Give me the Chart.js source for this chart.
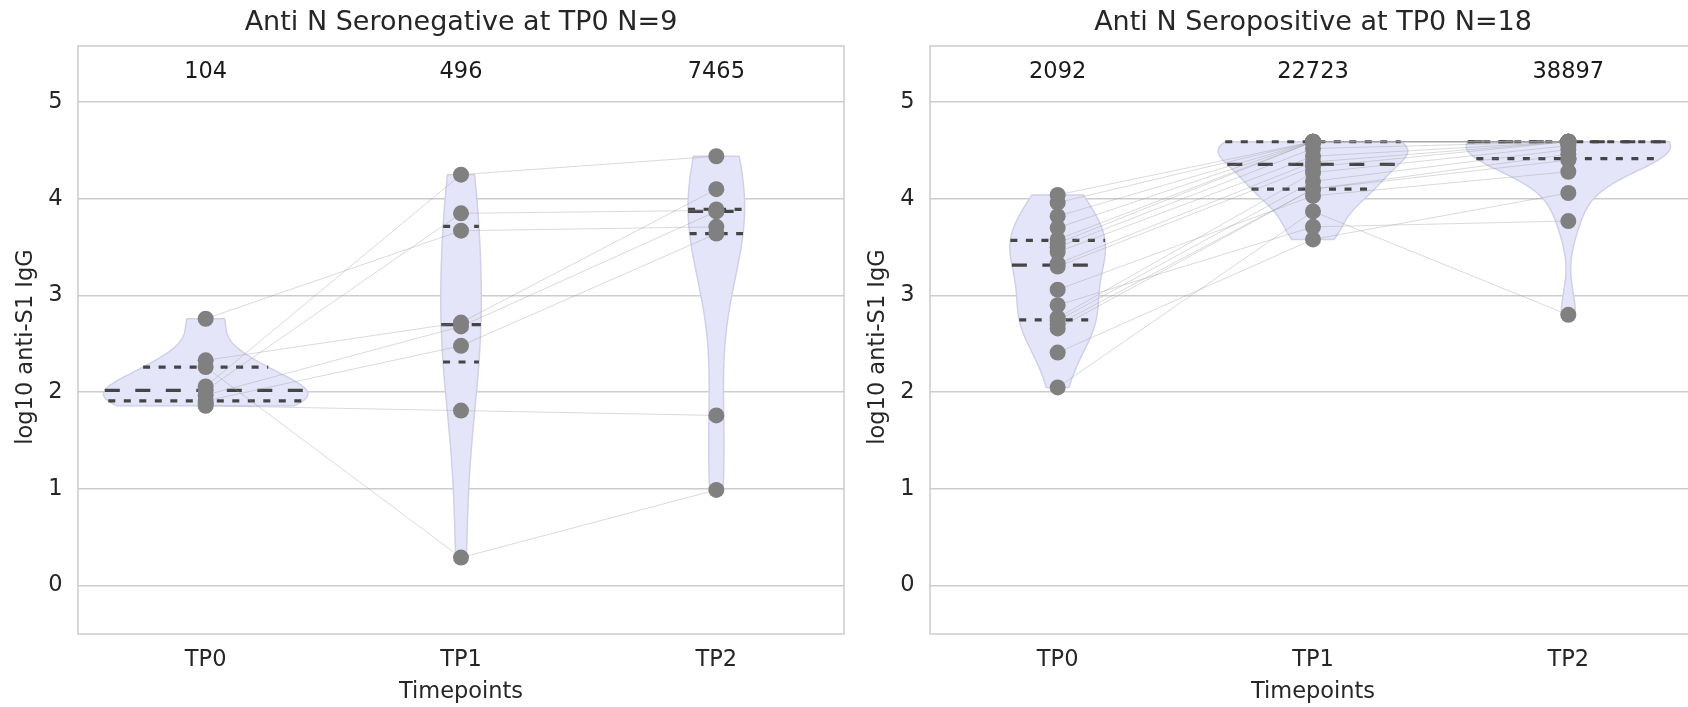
<!DOCTYPE html>
<html>
<head>
<meta charset="utf-8">
<title>anti-S1 IgG by timepoint</title>
<script src="https://cdn.jsdelivr.net/npm/chart.js@4.4.0/dist/chart.umd.min.js"></script>
<style>
  html, body { margin: 0; padding: 0; background: #fff; overflow: hidden; }
  #wrap { position: relative; width: 1688px; height: 707px; overflow: hidden; }
  .panel { position: absolute; top: 0; width: 852px; height: 707px; }
</style>
</head>
<body>
<div id="wrap">
  <div class="panel" style="left:0"><canvas id="neg" width="852" height="707"></canvas></div>
  <div class="panel" style="left:852px"><canvas id="pos" width="852" height="707"></canvas></div>
</div>
<script>
const timepoints = ['TP0', 'TP1', 'TP2'];
const yTicks = [0, 1, 2, 3, 4, 5];
const yTitle = 'log10 anti-S1 IgG';

// seronegative at TP0, one entry per subject (log10 values), null = no sample
const negTP0 = [2.76, 2.06, 2.02, 2.26, 1.86, 2.33, 1.97, 1.91, 1.88];
const negTP1 = [3.67, 4.25, 3.85, 0.29, 1.81, 2.72, 2.68, 2.48, null];
const negTP2 = [3.71, 4.44, 3.88, 0.99, 1.76, 4.10, 3.87, 3.64, 3.89];
const negMedians = ['104', '496', '7465'];

// seropositive at TP0
const posTP0 = [4.04, 3.96, 3.82, 3.70, 3.58, 3.54, 3.50, 3.45, 3.33, 3.30, 2.77, 2.74, 2.70, 2.66, 3.06, 2.90, 2.41, 2.05];
const posTP1 = [4.59, 4.59, 4.59, 4.59, 4.59, 4.59, 4.52, 4.44, 4.38, 4.33, 4.27, 4.18, 4.10, 4.10, 4.03, 3.71, 3.58, 3.87];
const posTP2 = [4.59, 4.59, 4.59, 4.59, 4.59, 4.59, 4.59, 4.59, 4.59, 4.59, 4.55, 4.51, 4.46, 4.40, 4.28, 3.77, 4.06, 2.80];
const posMedians = ['2092', '22723', '38897'];

const FONT = 'DejaVu Sans';
const TEXT = '#262626';
const GRID = '#cccccc';

// gaussian kde, scott bandwidth, cut at data range
function violinShape(values) {
  const v = values.filter(d => d !== null).sort((a, b) => a - b);
  const n = v.length;
  const mean = v.reduce((a, b) => a + b, 0) / n;
  const sd = Math.sqrt(v.reduce((a, b) => a + (b - mean) ** 2, 0) / (n - 1));
  const bw = sd * Math.pow(n, -0.2);
  const density = t => v.reduce((s, d) => s + Math.exp(-0.5 * ((t - d) / bw) ** 2), 0) / (n * bw * Math.sqrt(2 * Math.PI));
  const lo = v[0], hi = v[n - 1];
  const grid = [];
  for (let k = 0; k <= 120; k++) {
    const t = lo + (hi - lo) * k / 120;
    grid.push([t, density(t)]);
  }
  const pct = p => {
    const idx = p * (n - 1), i = Math.floor(idx), f = idx - i;
    return i + 1 < n ? v[i] + f * (v[i + 1] - v[i]) : v[i];
  };
  return { grid, density, maxD: Math.max(...grid.map(g => g[1])), quartiles: [pct(0.25), pct(0.5), pct(0.75)] };
}

const violinPlugin = {
  id: 'violins',
  beforeDatasetsDraw(chart, args, opts) {
    const { ctx, chartArea: a, scales: { x, y } } = chart;
    // frame (all four spines)
    ctx.save();
    ctx.strokeStyle = GRID;
    ctx.lineWidth = 1.5;
    ctx.strokeRect(a.left, a.top, a.right - a.left, a.bottom - a.top);

    const shapes = opts.groups.map(violinShape);
    const maxD = Math.max(...shapes.map(s => s.maxD));
    const unit = x.getPixelForValue(1) - x.getPixelForValue(0);
    shapes.forEach((s, i) => {
      const cx = x.getPixelForValue(i);
      const half = d => d / maxD * 0.4 * unit;
      ctx.beginPath();
      s.grid.forEach(([t, d], k) => {
        const px = cx - half(d), py = y.getPixelForValue(t);
        if (k) ctx.lineTo(px, py); else ctx.moveTo(px, py);
      });
      for (let k = s.grid.length - 1; k >= 0; k--) {
        const [t, d] = s.grid[k];
        ctx.lineTo(cx + half(d), y.getPixelForValue(t));
      }
      ctx.closePath();
      ctx.fillStyle = 'rgb(229,229,249)';
      ctx.fill();
      ctx.strokeStyle = 'rgba(208,208,234,1)';
      ctx.lineWidth = 1.5;
      ctx.stroke();

      ctx.strokeStyle = '#454545';
      ctx.lineWidth = 3.2;
      s.quartiles.forEach((q, j) => {
        const w = half(s.density(q));
        const py = y.getPixelForValue(q);
        ctx.setLineDash(j === 1 ? [15, 15.5] : [7, 8.5]);
        ctx.beginPath();
        ctx.moveTo(cx - w, py);
        ctx.lineTo(cx + w, py);
        ctx.stroke();
      });
      ctx.setLineDash([]);
    });
    ctx.restore();
  },
  afterDatasetsDraw(chart, args, opts) {
    const { ctx, chartArea: a, scales: { x, y } } = chart;
    ctx.save();
    ctx.font = '22.5px "' + FONT + '"';
    ctx.textAlign = 'center';
    ctx.textBaseline = 'middle';
    ctx.fillStyle = '#1a1a1a';
    opts.labels.forEach((txt, i) => ctx.fillText(txt, x.getPixelForValue(i), y.getPixelForValue(5.31)));
    // y axis title, sits a little below the axes centre like the original
    ctx.fillStyle = TEXT;
    ctx.translate(26, (a.top + a.bottom) / 2 + 7);
    ctx.rotate(-Math.PI / 2);
    ctx.fillText(yTitle, 0, 0);
    ctx.restore();
  }
};

function makePanel(id, title, tp0, tp1, tp2, medians) {
  const datasets = [];
  const cols = [tp0, tp1, tp2];
  const points = [];
  cols.forEach((col, i) => col.forEach(v => { if (v !== null) points.push({ x: i, y: v }); }));
  datasets.push({
    data: points,
    showLine: false,
    pointRadius: 8,
    pointBackgroundColor: '#808080',
    pointBorderWidth: 0,
    order: 0
  });
  tp0.forEach((_, s) => {
    datasets.push({
      data: cols.map((col, i) => ({ x: i, y: col[s] })),
      borderColor: 'rgba(150,150,150,0.45)',
      borderWidth: 0.8,
      pointRadius: 0,
      spanGaps: false,
      order: 1
    });
  });

  return new Chart(document.getElementById(id), {
    type: 'line',
    data: { datasets },
    plugins: [violinPlugin],
    options: {
      responsive: false,
      animation: false,
      devicePixelRatio: 1,
      layout: { padding: { left: 0, right: 8, top: 0, bottom: 0 } },
      plugins: {
        legend: { display: false },
        tooltip: { enabled: false },
        title: {
          display: true,
          text: title,
          fullSize: false,
          color: TEXT,
          font: { family: FONT, size: 27, weight: 'normal' },
          padding: { top: 6.8, bottom: 6.8 }
        },
        violins: { groups: cols, labels: medians }
      },
      scales: {
        x: {
          type: 'linear',
          min: -0.5,
          max: 2.5,
          afterBuildTicks: s => { s.ticks = timepoints.map((_, i) => ({ value: i })); },
          afterFit: s => { s.height = 73; },
          ticks: { callback: v => timepoints[v], color: TEXT, font: { family: FONT, size: 22.5 }, padding: 13, maxRotation: 0 },
          grid: { display: false, drawTicks: false },
          border: { display: false },
          title: { display: true, text: 'Timepoints', color: TEXT, font: { family: FONT, size: 22.5 }, padding: { top: 0, bottom: 1.5 } }
        },
        y: {
          min: -0.5,
          max: 5.58,
          afterBuildTicks: s => { s.ticks = yTicks.map(v => ({ value: v })); },
          afterFit: s => { s.width = 78; },
          ticks: { color: TEXT, font: { family: FONT, size: 22.5 }, padding: 15.5 },
          grid: { color: GRID, lineWidth: 1.5, drawTicks: false },
          border: { display: false },
          title: { display: false }
        }
      }
    }
  });
}

makePanel('neg', 'Anti N Seronegative at TP0 N=9', negTP0, negTP1, negTP2, negMedians);
makePanel('pos', 'Anti N Seropositive at TP0 N=18', posTP0, posTP1, posTP2, posMedians);
</script>
</body>
</html>
